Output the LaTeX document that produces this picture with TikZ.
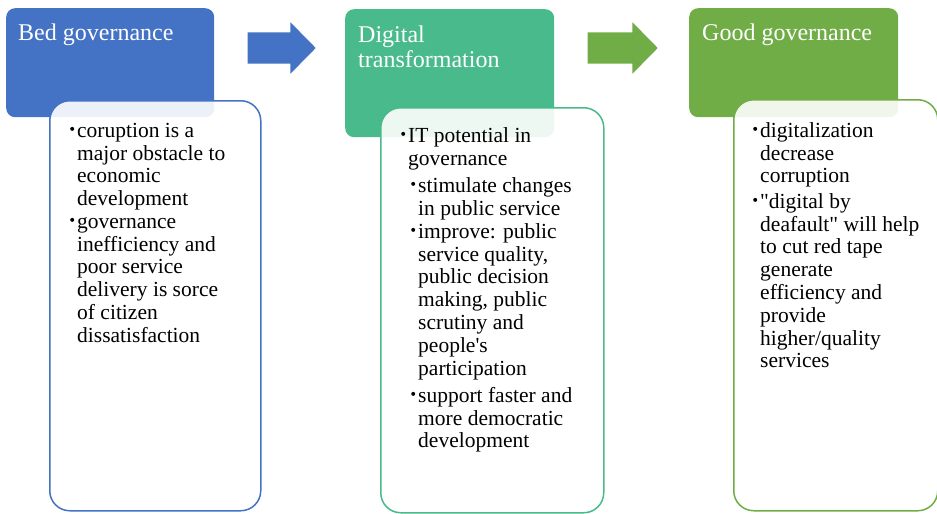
\documentclass[tikz,border=0pt]{standalone}
\usepackage{fontspec}
\setmainfont{Liberation Serif}
\usetikzlibrary{shapes.arrows}

\definecolor{badblue}{RGB}{68,114,196}
\definecolor{digigreen}{RGB}{72,186,140}
\definecolor{goodgreen}{RGB}{112,173,71}

% round bullet hung in front of a line
\newcommand{\bul}{\llap{\tikz[baseline={(0,-8.5pt)}]\fill (0,0) circle (2pt);\hspace{3pt}}}

\begin{document}
\begin{tikzpicture}[x=1pt,y=-1pt,
    head/.style={rounded corners=9pt, anchor=north west, inner sep=0pt},
    body/.style={draw, line width=1.5pt, fill=white, fill opacity=0.9,
                 rounded corners=20pt, anchor=north west, inner sep=0pt},
    title/.style={anchor=north west, inner sep=0pt, align=left, text=white,
                  font=\fontsize{24}{23}\selectfont},
    txt/.style={anchor=north west, inner sep=0pt, align=left,
                font=\fontsize{21.5}{22.8}\selectfont},
    flow/.style={single arrow, single arrow head extend=10pt,
                 single arrow tip angle=91, minimum height=68pt,
                 inner xsep=0pt, inner ysep=15.5pt}]
    \useasboundingbox (0,0) rectangle (937,514);

    % coloured headers
    \node[head, fill=badblue, minimum width=208pt, minimum height=109pt] (h1) at (6,8) {};
    \node[head, fill=digigreen, minimum width=209pt, minimum height=128pt] (h2) at (345,9) {};
    \node[head, fill=goodgreen, minimum width=209pt, minimum height=109pt] (h3) at (689,8) {};

    \node[title] (t1) at (18,23.9) {\strut Bed governance};
    \node[title] (t2) at (358,25.9) {\strut Digital\\transformation};
    \node[title] (t3) at (702,23.9) {\strut Good governance};

    % text boxes laid over the headers
    \node[body, draw=badblue, minimum width=211pt, minimum height=410pt] (b1) at (49,100) {};
    \node[body, draw=digigreen, minimum width=223pt, minimum height=405pt] (b2) at (380,107) {};
    \node[body, draw=goodgreen, minimum width=204pt, minimum height=411pt] (b3) at (733,99) {};

    % arrows between the stages
    \node[flow, fill=badblue] (a1) at (274,48) {};
    \node[flow, fill=goodgreen, minimum height=70pt] (a2) at (615,48) {};

    % bad governance
    \node[txt] (p1a) at (77,121.2) {\strut\bul coruption is a\\major obstacle to\\economic\\development};
    \node[txt] (p1b) at (77,212.2) {\strut\bul governance\\inefficiency and\\poor service\\delivery is sorce\\of citizen\\dissatisfaction};

    % digital transformation
    \node[txt] (p2a) at (408,126.2) {\strut\bul IT potential in\\governance};
    \node[txt] (p2b) at (418,176.2) {\strut\bul stimulate changes\\in public service};
    \node[txt] (p2c) at (418,222.2) {\strut\bul improve: public\\service quality,\\public decision\\making, public\\scrutiny and\\people\textquotesingle s\\participation};
    \node[txt] (p2d) at (418,386.2) {\strut\bul support faster and\\more democratic\\development};

    % good governance
    \node[txt] (p3a) at (760,121.2) {\strut\bul digitalization\\decrease\\corruption};
    \node[txt] (p3b) at (760,192.2) {\strut\bul \textquotedbl digital by\\deafault\textquotedbl{} will help\\to cut red tape\\generate\\efficiency and\\provide\\higher/quality\\services};
\end{tikzpicture}
\end{document}
